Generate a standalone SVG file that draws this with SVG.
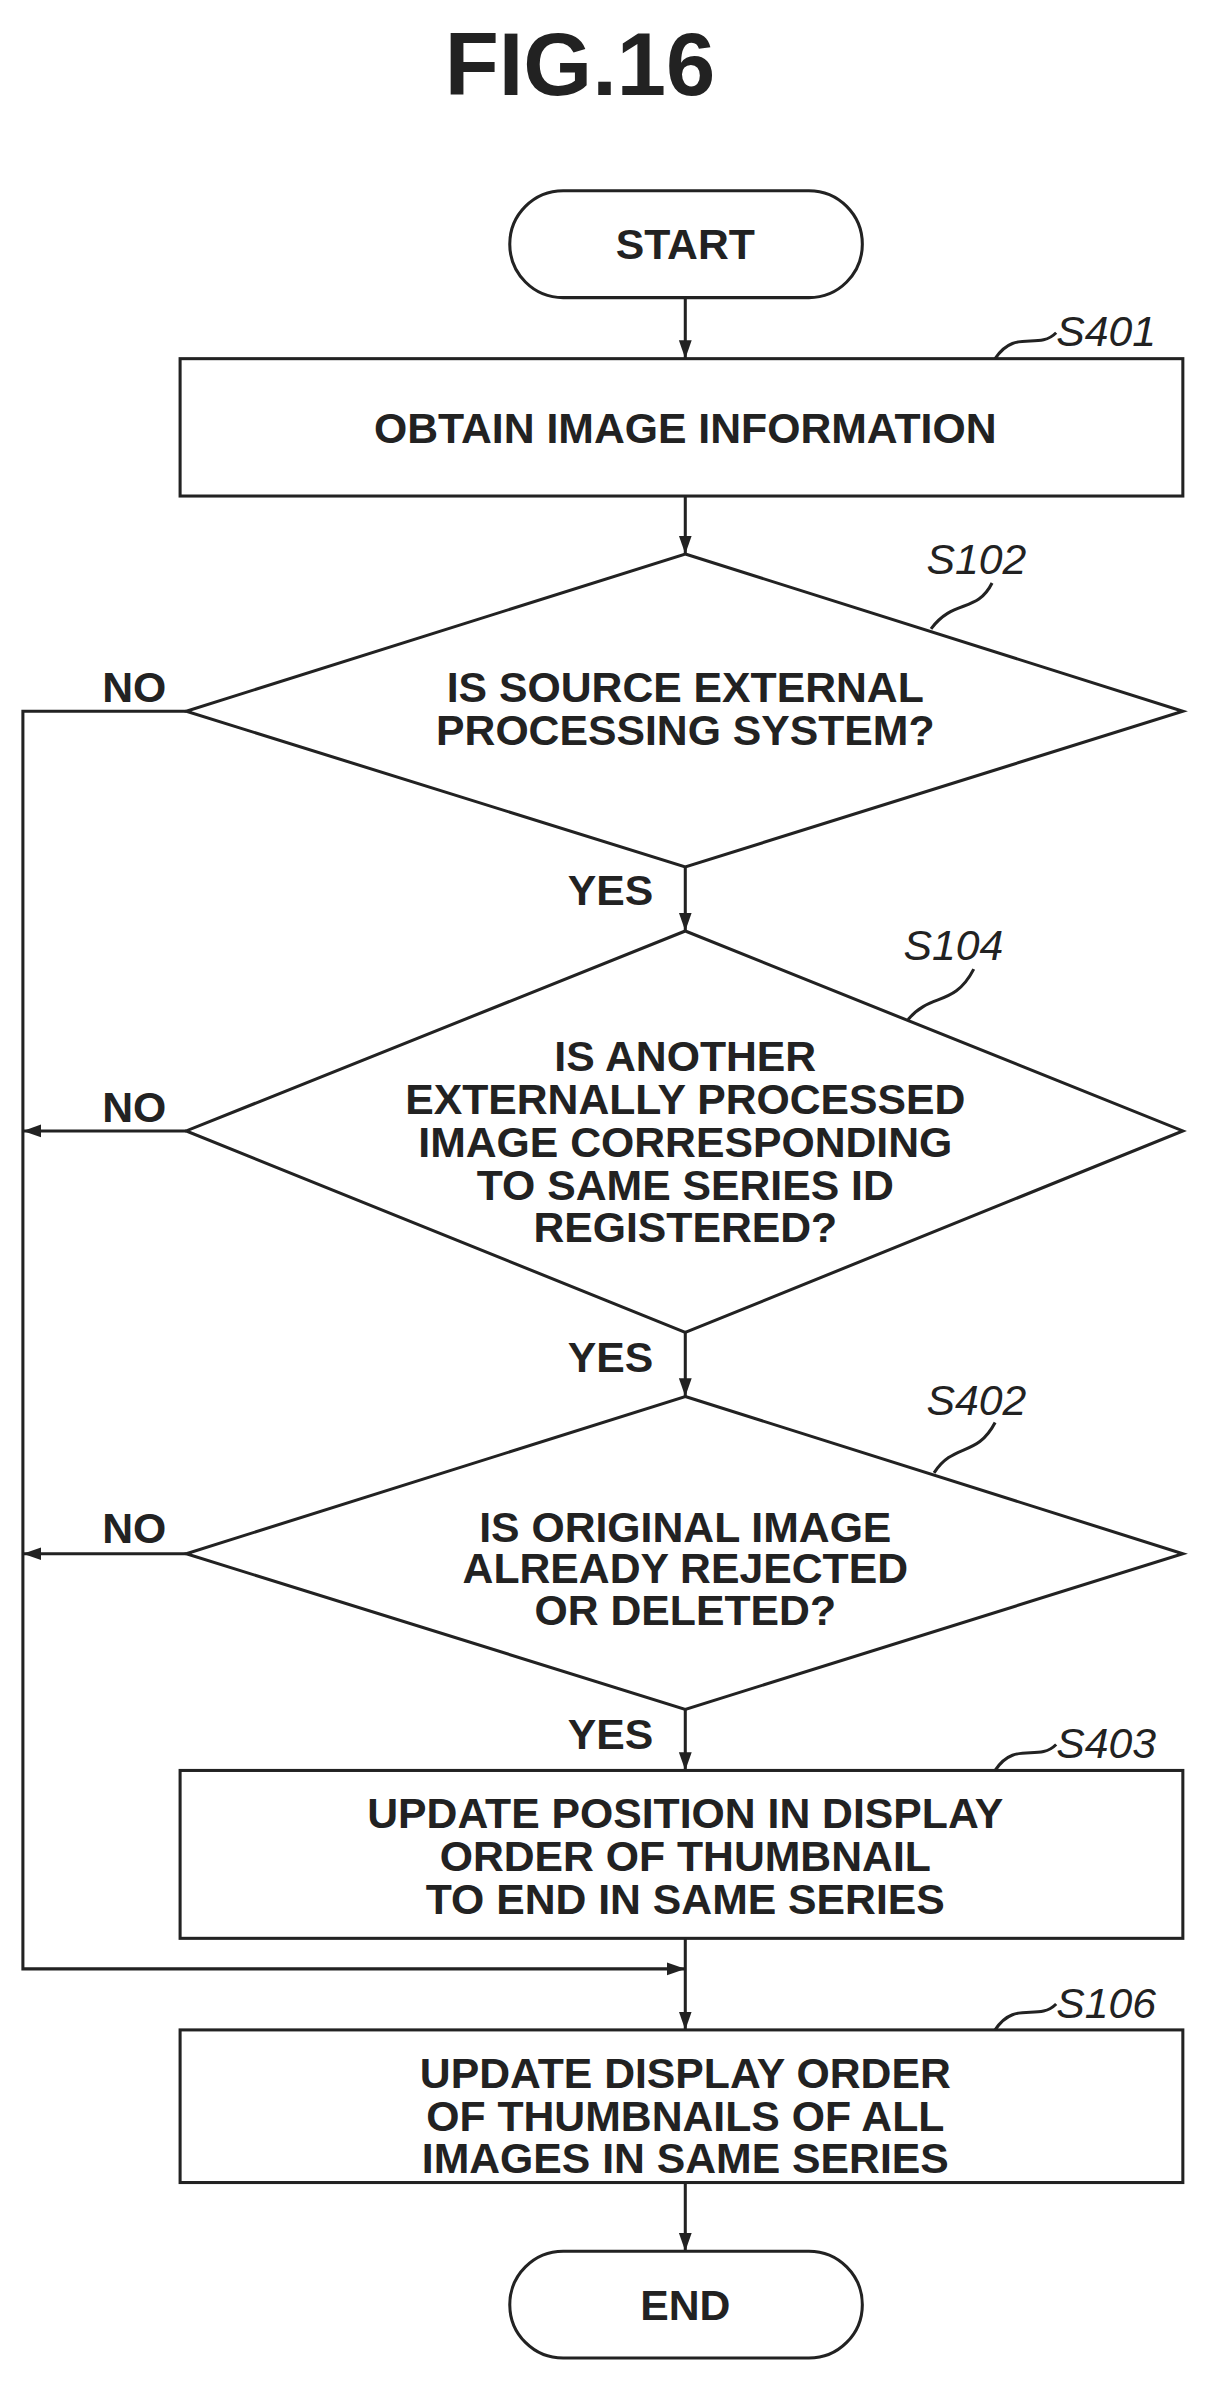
<svg xmlns="http://www.w3.org/2000/svg" width="1221" height="2406" viewBox="0 0 1221 2406">
<style>
.s{fill:#fff;stroke:#222;stroke-width:2}
.l{fill:none;stroke:#222;stroke-width:2}
.t{font-family:"Liberation Sans",Arial,sans-serif;font-weight:bold;font-size:28px;text-anchor:middle;fill:#222}
.g{font-family:"Liberation Sans",Arial,sans-serif;font-style:italic;font-size:28px;fill:#222}
</style>
<defs><marker id="b" viewBox="0 0 10 10" refX="10" refY="5" markerWidth="12" markerHeight="12" orient="auto" markerUnits="userSpaceOnUse"><path d="M0,1.5 L10,5 L0,8.5 z" fill="#222"/></marker></defs>
<rect width="1221" height="2406" fill="#fff"/>
<g transform="scale(1.52625)">
<text x="380" y="62" font-family="Liberation Sans,Arial,sans-serif" font-weight="bold" font-size="58" text-anchor="middle" fill="#222">FIG.16</text>
<g id="connectors">
<line class="l" x1="449" y1="195" x2="449" y2="235" marker-end="url(#b)"/>
<line class="l" x1="449" y1="325" x2="449" y2="363" marker-end="url(#b)"/>
<line class="l" x1="449" y1="568" x2="449" y2="610" marker-end="url(#b)"/>
<line class="l" x1="449" y1="873" x2="449" y2="915" marker-end="url(#b)"/>
<line class="l" x1="449" y1="1120" x2="449" y2="1160" marker-end="url(#b)"/>
<line class="l" x1="449" y1="1270" x2="449" y2="1330" marker-end="url(#b)"/>
<line class="l" x1="449" y1="1430" x2="449" y2="1475" marker-end="url(#b)"/>
<polyline class="l" points="122,466 15,466 15,1290 449,1290" marker-end="url(#b)"/>
<line class="l" x1="122" y1="741" x2="15" y2="741" marker-end="url(#b)"/>
<line class="l" x1="122" y1="1018" x2="15" y2="1018" marker-end="url(#b)"/>
<text class="t" x="88" y="460">NO</text>
<text class="t" x="88" y="735">NO</text>
<text class="t" x="88" y="1011">NO</text>
<text class="t" x="400" y="593">YES</text>
<text class="t" x="400" y="899">YES</text>
<text class="t" x="400" y="1146">YES</text>
</g>
<g id="start"><rect class="s" x="334" y="125" width="231" height="70" rx="35"/><text class="t" x="449" y="170">START</text></g>
<g id="s401"><rect class="s" x="118" y="235" width="657" height="90"/><text class="t" x="449" y="290">OBTAIN IMAGE INFORMATION</text>
<path class="l" d="M652,235 C665,215 680,230 692,218"/><text class="g" x="692" y="227">S401</text></g>
<g id="s102"><polygon class="s" points="449,363 775,466 449,568 122,466"/><text class="t" x="449" y="460">IS SOURCE EXTERNAL</text><text class="t" x="449" y="488">PROCESSING SYSTEM?</text>
<path class="l" d="M610,412 C625,392 640,402 650,382"/><text class="g" x="607" y="376">S102</text></g>
<g id="s104"><polygon class="s" points="449,610 775,741 449,873 122,741"/><text class="t" x="449" y="702">IS ANOTHER</text><text class="t" x="449" y="730">EXTERNALLY PROCESSED</text><text class="t" x="449" y="758">IMAGE CORRESPONDING</text><text class="t" x="449" y="786">TO SAME SERIES ID</text><text class="t" x="449" y="814">REGISTERED?</text>
<path class="l" d="M595,668 C610,650 625,660 638,635"/><text class="g" x="592" y="629">S104</text></g>
<g id="s402"><polygon class="s" points="449,915 775,1018 449,1120 122,1018"/><text class="t" x="449" y="1010">IS ORIGINAL IMAGE</text><text class="t" x="449" y="1037">ALREADY REJECTED</text><text class="t" x="449" y="1065">OR DELETED?</text>
<path class="l" d="M612,965 C625,945 640,955 652,932"/><text class="g" x="607" y="927">S402</text></g>
<g id="s403"><rect class="s" x="118" y="1160" width="657" height="110"/><text class="t" x="449" y="1198">UPDATE POSITION IN DISPLAY</text><text class="t" x="449" y="1226">ORDER OF THUMBNAIL</text><text class="t" x="449" y="1254">TO END IN SAME SERIES</text>
<path class="l" d="M652,1160 C665,1140 680,1155 692,1143"/><text class="g" x="692" y="1152">S403</text></g>
<g id="s106"><rect class="s" x="118" y="1330" width="657" height="100"/><text class="t" x="449" y="1368">UPDATE DISPLAY ORDER</text><text class="t" x="449" y="1396">OF THUMBNAILS OF ALL</text><text class="t" x="449" y="1424">IMAGES IN SAME SERIES</text>
<path class="l" d="M652,1330 C665,1310 680,1325 692,1313"/><text class="g" x="692" y="1322">S106</text></g>
<g id="end"><rect class="s" x="334" y="1475" width="231" height="70" rx="35"/><text class="t" x="449" y="1520">END</text></g>
</g>
</svg>
